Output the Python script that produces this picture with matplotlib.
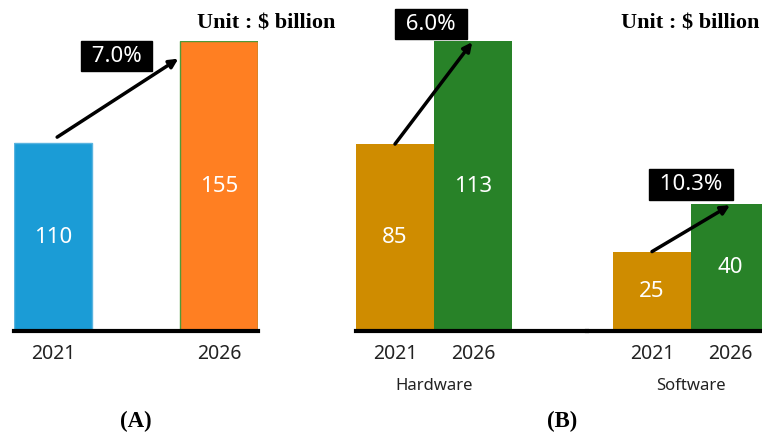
import matplotlib
matplotlib.use("Agg")
from matplotlib import pyplot, transforms

# market size, $ billion
years = ["2021", "2026"]
totalValues = [110, 155]
totalGrowth = "7.0%"
hardwareValues = [85, 113]
hardwareGrowth = "6.0%"
softwareValues = [25, 40]
softwareGrowth = "10.3%"
groupNames = ["Hardware", "Software"]

W, H = 762, 436
fig = pyplot.figure(figsize=(W / 100, H / 100), dpi=100)
pyplot.rcParams["font.family"] = ["Noto Sans", "DejaVu Sans"]

BLUE = "#1b9cd6"
ORANGE = "#ff7f22"
GOLD = "#cf8c00"
GREEN = "#288228"

AX_BOTTOM = (H - 331) / H
AX_HEIGHT = 290 / H


def makeAxes(left, right, xlim, ylim):
    ax = fig.add_axes([left / W, AX_BOTTOM, (right - left) / W, AX_HEIGHT])
    ax.set_xlim(*xlim)
    ax.set_ylim(*ylim)
    for side in ["top", "right", "left"]:
        ax.spines[side].set_visible(False)
    ax.spines["bottom"].set_linewidth(3)
    ax.spines["bottom"].set_color("black")
    ax.set_yticks([])
    ax.tick_params(axis="x", length=0, pad=9, labelsize=14, labelcolor="#222222")
    ax.patch.set_alpha(0)
    return ax


def valueLabels(ax, xs, values):
    low = max(ax.get_ylim()[0], 0)
    for x, v in zip(xs, values):
        ax.text(x, (low + v) / 2, str(v), ha="center", va="center",
                color="white", fontsize=16)


def growthArrow(ax, start, end):
    ax.annotate("", xy=end, xytext=start,
                arrowprops=dict(arrowstyle="-|>", lw=2.5, color="black",
                                mutation_scale=13, shrinkA=0, shrinkB=0))


def growthBox(px, py, text):
    fig.text(px / W, 1 - py / H, text, ha="center", va="center",
             color="white", fontsize=16,
             bbox=dict(boxstyle="square,pad=0.22", fc="black", ec="black"))


# (A) total market
wA = 78 / 166
axA = makeAxes(14, 258, (-wA / 2, 1 + wA / 2), (27.1, 155))
bars = axA.bar([0, 1], totalValues, width=wA, color=[BLUE, ORANGE])
bars[0].set_edgecolor("#5ab4e0")
bars[1].set_edgecolor("#4f9a3a")
bars[1].set_linewidth(1)
axA.set_xticks([0, 1], years)
valueLabels(axA, [0, 1], totalValues)
growthArrow(axA, (0.025, totalValues[0] + 2.6), (1 - wA / 2 - 0.01, totalValues[1] - 7.8))
growthBox(116.5, 56, " " + totalGrowth + " ")

# (B) hardware and software
axHw = makeAxes(356, 587, (-0.5, -0.5 + 231 / 78), (34.2, 113))
axHw.bar([0, 1], hardwareValues, width=1, color=[GOLD, GREEN])
axHw.set_xticks([0, 1], years)
valueLabels(axHw, [0, 1], hardwareValues)
growthArrow(axHw, (0, hardwareValues[0]), (0.99, hardwareValues[1] - 0.3))
growthBox(431, 24, " " + hardwareGrowth + " ")

swLeft = -0.5 - 26 / 78
axSw = makeAxes(587, 762, (swLeft, swLeft + 175 / 78), (0, 91.3))
axSw.bar([0, 1], softwareValues, width=1, color=[GOLD, GREEN])
axSw.set_xticks([0, 1], years)
valueLabels(axSw, [0, 1], softwareValues)
growthArrow(axSw, (0, softwareValues[0]), (1, softwareValues[1] - 0.4))
growthBox(691, 184.5, " " + softwareGrowth + " ")

for ax, name in zip([axHw, axSw], groupNames):
    trans = transforms.blended_transform_factory(ax.transData, ax.transAxes)
    ax.text(0.5, -55 / 290, name, transform=trans, ha="center", va="center",
            fontsize=12, color="#222222")

# unit notes and panel captions
serif = dict(family="Liberation Serif", fontweight="bold", color="black")
fig.text(266 / W, 1 - 23 / H, "Unit : $ billion", ha="center", va="center", fontsize=16, **serif)
fig.text(690 / W, 1 - 24 / H, "Unit : $ billion", ha="center", va="center", fontsize=16, **serif)
fig.text(136 / W, 1 - 421 / H, "(A)", ha="center", va="center", fontsize=16.5, **serif)
fig.text(562 / W, 1 - 421 / H, "(B)", ha="center", va="center", fontsize=16.5, **serif)

fig.savefig("out.png", dpi=100)
